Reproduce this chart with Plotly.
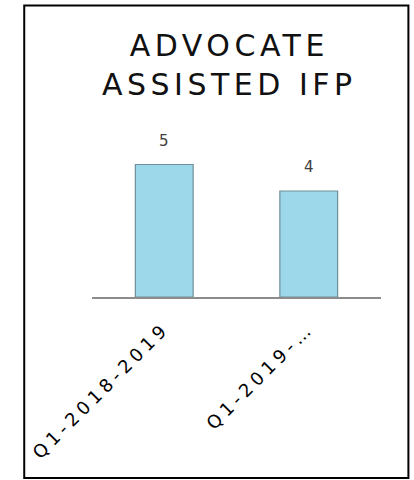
import plotly.graph_objects as go

categories = ["Q1-2018-2019", "Q1-2019-…"]
values = [5, 4]
title_lines = ["ADVOCATE", "ASSISTED IFP"]

W, H = 414, 480
L, R = 91.5, 381.5   # plot area left/right pixels
T, B = 138, 297      # plot area top/bottom pixels

def px_x(p):
    return (p - L) / (R - L)

def px_y(p):
    return (B - p) / (B - T)

fig = go.Figure()
fig.add_trace(go.Bar(
    x=categories, y=values, width=0.4,
    marker=dict(color="#9CD8E9", line=dict(color="#6E8F99", width=1.2)),
    hoverinfo="skip",
))

for c, v in zip(categories, values):
    fig.add_annotation(x=c, y=v, text=str(v), showarrow=False, yshift=24,
                       font=dict(family="DejaVu Sans", size=15, color="#404040"))

fig.add_annotation(xref="paper", yref="paper", x=px_x(229), y=px_y(65),
                   yanchor="middle", xanchor="center",
                   text="<br>".join(title_lines), showarrow=False,
                   font=dict(family="DejaVu Sans", size=30, color="#111111"),
                   align="center", name="title")

fig.add_shape(type="rect", xref="paper", yref="paper",
              x0=px_x(23.5), x1=px_x(409), y0=px_y(478), y1=px_y(5.5),
              line=dict(color="#000000", width=2))

fig.update_layout(
    width=W, height=H,
    margin=dict(l=L, r=W - R, t=T, b=H - B, autoexpand=False),
    paper_bgcolor="white", plot_bgcolor="white",
    showlegend=False, bargap=0.6,
    xaxis=dict(showline=True, linecolor="#8C8C8C", linewidth=1.5,
               tickangle=-45, ticks="", showgrid=False, ticklabelstandoff=12,
               tickfont=dict(family="DejaVu Sans", size=18, color="#000000")),
    yaxis=dict(range=[0, 6], visible=False, showgrid=False, zeroline=False),
)

post = """
document.body.style.margin = '0';
document.documentElement.style.margin = '0';
function spacing(){
  document.querySelectorAll('.xtick text').forEach(function(t){ t.style.letterSpacing = '4.5px'; });
  var anns = document.querySelectorAll('.annotation-text');
  anns.forEach(function(t){ if (t.textContent.indexOf('ADVOCATE') >= 0) { t.style.letterSpacing = '4.5px'; } });
}
spacing();
var gd = document.getElementsByClassName('plotly-graph-div')[0];
if (gd && gd.on) { gd.on('plotly_afterplot', spacing); }
"""

fig.write_html("out.html", post_script=post, config={"displayModeBar": False})
